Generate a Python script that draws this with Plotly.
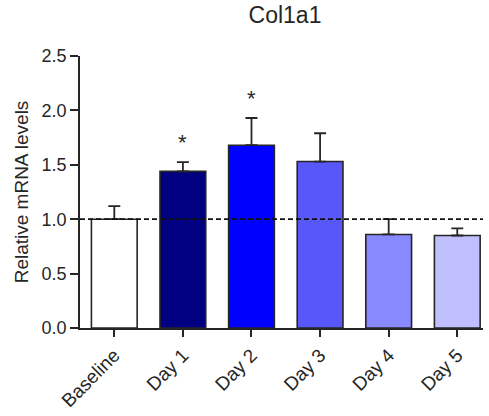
import plotly.graph_objects as go

# Relative Col1a1 mRNA expression over time
categories = ["Baseline", "Day 1", "Day 2", "Day 3", "Day 4", "Day 5"]
means = [1.00, 1.44, 1.68, 1.53, 0.86, 0.85]
sd_upper = [0.12, 0.085, 0.25, 0.26, 0.14, 0.065]
significant = [False, True, True, False, False, False]
bar_colors = ["#FFFFFF", "#000080", "#0000FF", "#5858FA", "#8888FF", "#C0C0FF"]
y_ticks = [0.0, 0.5, 1.0, 1.5, 2.0, 2.5]

FONT = "Arial, Liberation Sans, sans-serif"
INK = "#262626"

fig = go.Figure()

fig.add_trace(go.Bar(
    x=list(range(len(categories))),
    y=means,
    width=0.667,
    marker=dict(color=bar_colors, line=dict(color=INK, width=1.6)),
    error_y=dict(
        type="data", symmetric=False, array=sd_upper,
        arrayminus=[0] * len(means),
        color=INK, thickness=1.8, width=6,
    ),
    showlegend=False,
))

# reference line at baseline level
fig.add_shape(
    type="line", xref="x", yref="y",
    x0=-0.5, x1=5.375, y0=1.0, y1=1.0,
    line=dict(color="#111111", width=1.8, dash="5px,3px"),
    layer="above",
)

# significance markers
for i, (m, s, sig) in enumerate(zip(means, sd_upper, significant)):
    if sig:
        fig.add_annotation(
            x=i, y=m + s, text="*", showarrow=False,
            yanchor="bottom", yshift=5,
            font=dict(family=FONT, size=22, color=INK),
        )

fig.update_layout(
    width=489, height=416,
    margin=dict(l=80, r=6, t=56, b=88),
    paper_bgcolor="white", plot_bgcolor="white",
    title=dict(
        text="Col1a1", x=(285 - 80) / (489 - 86), xref="paper", xanchor="center",
        y=0.963, yanchor="middle",
        font=dict(family=FONT, size=23, color=INK),
    ),
    font=dict(family=FONT, size=18, color=INK),
)

fig.update_xaxes(
    range=[-0.5, 5.375],
    tickmode="array", tickvals=list(range(len(categories))), ticktext=categories,
    tickangle=-45, ticks="outside", ticklen=7, tickwidth=1.6, tickcolor=INK,
    showline=True, linecolor=INK, linewidth=1.6,
    showgrid=False, zeroline=False,
    tickfont=dict(family=FONT, size=19, color=INK),
)
fig.update_yaxes(
    range=[0, 2.5],
    tickmode="array", tickvals=y_ticks, ticktext=[f"{v:.1f}" for v in y_ticks],
    ticks="outside", ticklen=8, tickwidth=1.6, tickcolor=INK,
    showline=True, linecolor=INK, linewidth=1.6,
    showgrid=False, zeroline=False,
    tickfont=dict(family=FONT, size=18, color=INK),
    title=dict(text="Relative mRNA levels", standoff=8,
               font=dict(family=FONT, size=19, color=INK)),
)

fig.write_html("out.html")
